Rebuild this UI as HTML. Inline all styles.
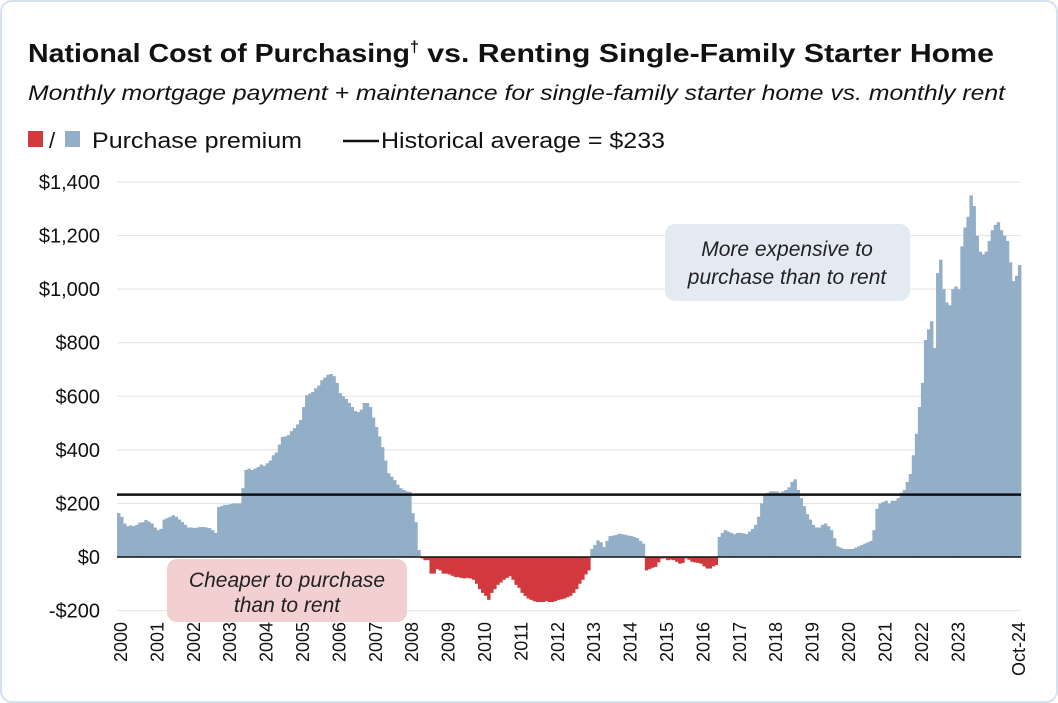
<!DOCTYPE html>
<html><head><meta charset="utf-8">
<style>
body{margin:0;background:#fff;font-family:"Liberation Sans",sans-serif;}
#card{position:absolute;left:0;top:0;width:1054px;height:699px;border:2px solid #d6e1ee;border-radius:12px;background:#fff;}
</style></head>
<body>
<div id="card"></div>
<svg id="chart" width="1058" height="703" style="position:absolute;left:0;top:0">
<text x="28" y="62" font-size="26" font-weight="bold" fill="#111"><tspan textLength="382" lengthAdjust="spacingAndGlyphs">National Cost of Purchasing</tspan><tspan dy="-10" font-size="16">†</tspan><tspan dy="10" textLength="575" lengthAdjust="spacingAndGlyphs"> vs. Renting Single-Family Starter Home</tspan></text>
<text x="28" y="100" font-size="21" font-style="italic" fill="#111" textLength="977" lengthAdjust="spacingAndGlyphs">Monthly mortgage payment + maintenance for single-family starter home vs. monthly rent</text>
<g>
<rect x="28" y="131" width="15" height="16" fill="#d2393e"/>
<text x="49" y="148" font-size="22" fill="#111">/</text>
<rect x="65" y="131" width="15" height="16" fill="#93aec7"/>
<text x="92" y="148" font-size="22" fill="#111" textLength="210" lengthAdjust="spacingAndGlyphs">Purchase premium</text>
<line x1="343" y1="141" x2="379" y2="141" stroke="#111" stroke-width="2.5"/>
<text x="381" y="148" font-size="22" fill="#111" textLength="284" lengthAdjust="spacingAndGlyphs">Historical average = $233</text>
</g>
<g id="grid"></g>
<g id="bars"></g>
<g id="annot"></g>
<g id="xaxis"></g>
</svg>
<script>
const years=["2000","2001","2002","2003","2004","2005","2006","2007","2008","2009","2010","2011","2012","2013","2014","2015","2016","2017","2018","2019","2020","2021","2022","2023","Oct-24"];
const yTicks=[-200,0,200,400,600,800,1000,1200,1400];
const yTickLabels=["-$200","$0","$200","$400","$600","$800","$1,000","$1,200","$1,400"];
const historicalAverage=233;
const premium=[
164,150,125,115,118,115,120,128,130,138,132,125,
110,100,105,140,145,150,156,150,140,130,120,110,
110,108,110,112,112,110,108,100,90,187,190,195,
195,198,200,200,200,257,325,330,325,330,336,345,
340,350,360,380,390,420,448,450,455,470,481,495,
511,560,604,610,616,630,640,660,670,680,683,675,
650,612,600,590,575,560,545,541,550,575,575,560,
520,485,450,410,360,313,300,287,270,257,250,245,
243,164,130,26,-5,-12,-12,-62,-62,-45,-50,-62,
-62,-65,-70,-75,-75,-78,-80,-78,-80,-85,-100,-120,
-134,-145,-160,-134,-120,-104,-95,-85,-78,-72,-85,-104,
-115,-134,-145,-155,-160,-165,-168,-168,-168,-165,-168,-168,
-165,-160,-158,-155,-150,-145,-134,-120,-100,-85,-65,-50,
30,45,62,55,37,60,78,80,82,87,85,83,
80,78,75,70,60,50,-50,-45,-40,-37,-20,-6,
-5,-12,-10,-12,-18,-25,-22,-5,-10,-18,-20,-22,
-25,-35,-43,-43,-35,-30,75,90,100,95,90,85,
90,90,88,85,95,105,120,150,200,230,240,245,
245,245,240,245,250,260,280,290,250,220,190,160,
140,120,110,110,120,125,115,100,70,40,35,30,
30,30,30,35,40,45,50,55,60,100,180,200,
205,210,200,210,210,220,240,250,280,310,380,460,
560,650,810,850,880,780,1060,1110,1000,950,940,1000,
1010,1000,1160,1230,1270,1350,1310,1200,1140,1130,1140,1180,
1220,1240,1250,1220,1200,1180,1100,1030,1050,1090];
const NS="http://www.w3.org/2000/svg";
const X0=117,X1=1021,N=premium.length,bw=(X1-X0)/N;
const yS=v=>557-v*375/1400;
const xS=i=>X0+i*bw;
function mk(tag,attrs,parent){const e=document.createElementNS(NS,tag);for(const k in attrs)e.setAttribute(k,attrs[k]);parent.appendChild(e);return e;}
const grid=document.getElementById('grid');
yTicks.forEach((t,i)=>{
 if(t!==0){const l=mk('line',{x1:X0,x2:X1,y1:yS(t),y2:yS(t),stroke:'#e2e2e2','stroke-width':1},grid);
 
 }
 const tx=mk('text',{x:100,y:yS(t)+7,'text-anchor':'end','font-size':20,fill:'#111'},grid);
 tx.textContent=yTickLabels[i];
 
 
});
const bars=document.getElementById('bars');
premium.forEach((v,i)=>{
 const y=Math.min(yS(v),yS(0)),h=Math.abs(yS(v)-yS(0));
 const r=mk('rect',{x:xS(i),y:y,width:bw+0.4,height:h,fill:v>=0?'#93aec7':'#d2393e'},bars);
 
 
});
const annot=document.getElementById('annot');
const z=mk('line',{x1:X0,x2:X1,y1:yS(0),y2:yS(0),stroke:'#111','stroke-width':1.5},annot);


const av=mk('line',{x1:X0,x2:X1,y1:yS(historicalAverage),y2:yS(historicalAverage),stroke:'#111','stroke-width':2.5},annot);


const b1=mk('rect',{x:665,y:224,width:245,height:77,rx:10,fill:'#e3eaf2'},annot);


[["More expensive to",256],["purchase than to rent",284]].forEach(a=>{const t=mk('text',{x:787,y:a[1],'text-anchor':'middle','font-size':21,'font-style':'italic',fill:'#222'},annot);t.textContent=a[0];
 
 });
const b2=mk('rect',{x:167,y:559,width:240,height:63,rx:10,fill:'#f2cfd0'},annot);


[["Cheaper to purchase",587],["than to rent",612]].forEach(a=>{const t=mk('text',{x:287,y:a[1],'text-anchor':'middle','font-size':21,'font-style':'italic',fill:'#222'},annot);t.textContent=a[0];
 
 });
const xa=document.getElementById('xaxis');
years.forEach((yr,i)=>{
 const x=(i<24)?xS(i*12)+4:X1-2;
 const t=mk('text',{x:0,y:0,'text-anchor':'end','font-size':18,fill:'#111',transform:`translate(${x+6},622) rotate(-90)`},xa);
 t.textContent=yr;
 
 
});
</script>
</body></html>
